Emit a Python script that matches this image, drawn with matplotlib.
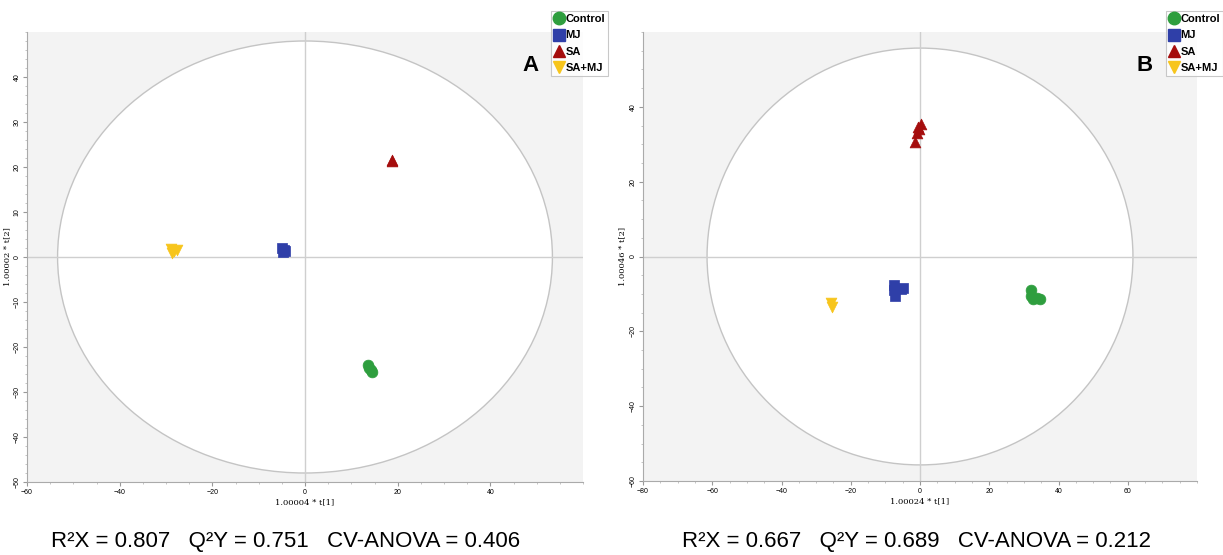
import numpy as np
import matplotlib
matplotlib.use('Agg')
import matplotlib.pyplot as plt
from matplotlib.patches import Ellipse
from matplotlib.lines import Line2D

plt.rcParams['font.family'] = ['Liberation Sans', 'DejaVu Sans']

groups = ['Control', 'MJ', 'SA', 'SA+MJ']
colors = ['#2e9e3e', '#2f3fa8', '#a50d0d', '#f7c51c']
markers = ['o', 's', '^', 'v']

# panel A scores (t[1], t[2])
a_ctrl_x = [13.6, 13.9, 14.2, 14.4]
a_ctrl_y = [-24.0, -24.6, -25.2, -25.5]
a_mj_x = [-4.9, -4.6, -4.4, -4.7]
a_mj_y = [1.9, 1.6, 1.3, 1.1]
a_sa_x = [18.7, 18.8]
a_sa_y = [21.6, 21.4]
a_samj_x = [-29.0, -28.3, -27.7, -28.6]
a_samj_y = [1.8, 1.4, 1.6, 1.0]

# panel B scores
b_ctrl_x = [32.0, 32.2, 32.6, 33.8, 34.6]
b_ctrl_y = [-9.0, -10.5, -11.3, -11.0, -11.3]
b_mj_x = [-7.5, -7.5, -7.3, -5.0, -5.5]
b_mj_y = [-7.5, -9.0, -10.5, -8.3, -8.6]
b_sa_x = [-0.5, 0.3, -1.0, -1.5, -0.2]
b_sa_y = [34.5, 35.3, 33.0, 30.5, 34.0]
b_samj_x = [-25.6, -25.4]
b_samj_y = [-12.5, -13.6]

stats_a = 'R²X = 0.807   Q²Y = 0.751   CV-ANOVA = 0.406'
stats_b = 'R²X = 0.667   Q²Y = 0.689   CV-ANOVA = 0.212'

fig = plt.figure(figsize=(12.23, 5.55), dpi=100)
axA = fig.add_axes([27/1223, 73/555, 556/1223, 450/555])
axB = fig.add_axes([643/1223, 74/555, 554/1223, 449/555])


def panel(ax, xs, ys, xlim, ylim, ell, xlabel, ylabel, xticks, yticks, letter, ylab_x):
    ax.set_facecolor('#f3f3f3')
    ax.add_patch(Ellipse((0, 0), 2*ell[0], 2*ell[1], facecolor='white',
                         edgecolor='#c4c4c4', lw=1.0, zorder=1))
    ax.axhline(0, color='#cfcfcf', lw=1.0, zorder=1.5)
    ax.axvline(0, color='#cfcfcf', lw=1.0, zorder=1.5)
    for x, y, c, m in zip(xs, ys, colors, markers):
        ax.scatter(x, y, s=60, c=c, marker=m, edgecolors=c, linewidths=0.5, zorder=3)
    ax.set_xlim(*xlim)
    ax.set_ylim(*ylim)
    ax.set_xticks(xticks)
    ax.set_yticks(yticks)
    ax.minorticks_on()
    ax.tick_params(labelsize=5, length=3, color='#999999', pad=2)
    ax.tick_params(axis='y', pad=1.5)
    ax.tick_params(which='minor', length=1.5, color='#bbbbbb')
    for lab in ax.get_yticklabels():
        lab.set_rotation(90)
        lab.set_va('center')
    for s in ['top', 'right']:
        ax.spines[s].set_visible(False)
    for s in ['left', 'bottom']:
        ax.spines[s].set_color('#aaaaaa')
    ax.set_xlabel(xlabel, fontsize=6, family='DejaVu Serif', labelpad=2)
    ax.set_ylabel(ylabel, fontsize=6, family='DejaVu Serif')
    ax.yaxis.set_label_coords(ylab_x, 0.5)
    ax.text(0.905, 0.925, letter, transform=ax.transAxes, fontsize=16,
            fontweight='bold', ha='center', va='center')


panel(axA, [a_ctrl_x, a_mj_x, a_sa_x, a_samj_x], [a_ctrl_y, a_mj_y, a_sa_y, a_samj_y],
      (-60, 60), (-50, 50), (53.4, 48), '1.00004 * t[1]', '1.00002 * t[2]',
      [-60, -40, -20, 0, 20, 40], [-50, -40, -30, -20, -10, 0, 10, 20, 30, 40], 'A', -0.028)
panel(axB, [b_ctrl_x, b_mj_x, b_sa_x, b_samj_x], [b_ctrl_y, b_mj_y, b_sa_y, b_samj_y],
      (-80, 80), (-60, 60), (61.5, 55.7), '1.00024 * t[1]', '1.00046 * t[2]',
      [-80, -60, -40, -20, 0, 20, 40, 60], [-60, -40, -20, 0, 20, 40], 'B', -0.03)

handles = [Line2D([], [], ls='none', marker=m, color=c, markersize=9)
           for c, m in zip(colors, markers)]
for x0 in [551/1223, 1166/1223]:
    leg = fig.legend(handles, groups, loc='upper left', bbox_to_anchor=(x0, 1 - 11/555),
                     prop={'size': 8, 'weight': 'bold'}, handlelength=0.9,
                     handletextpad=0.1, labelspacing=0.55, borderpad=0.3,
                     borderaxespad=0, fancybox=False, edgecolor='#bbbbbb')
    leg.get_frame().set_linewidth(0.8)

fig.text(286/1223, 1 - 542/555, stats_a, fontsize=16, ha='center', va='center')
fig.text(917/1223, 1 - 542/555, stats_b, fontsize=16, ha='center', va='center')

fig.savefig('out.png', dpi=100)
